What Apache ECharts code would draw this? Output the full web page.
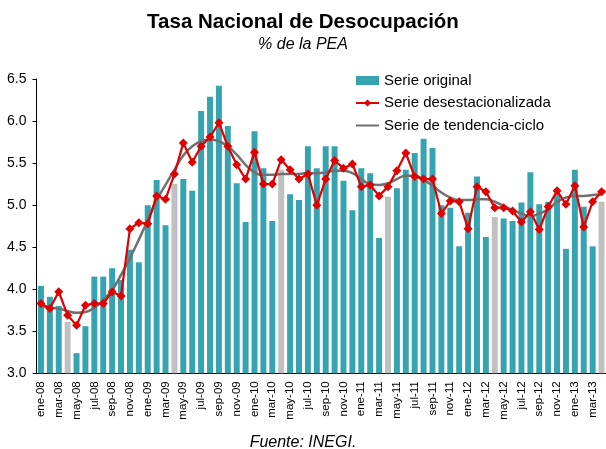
<!DOCTYPE html>
<html>
<head>
<meta charset="utf-8">
<script src="https://cdn.jsdelivr.net/npm/echarts@6/dist/echarts.min.js"></script>
<style>
  html, body { margin: 0; padding: 0; background: #fff; overflow: hidden; }
  #chart { width: 606px; height: 449px; }
</style>
</head>
<body>
<div id="chart"></div>
<script>
// meses ene-08 .. abr-13
const monthNames = ['ene', 'feb', 'mar', 'abr', 'may', 'jun', 'jul', 'ago', 'sep', 'oct', 'nov', 'dic']
const years = ['08', '09', '10', '11', '12', '13']
const categories = []
years.forEach(y => monthNames.forEach(m => categories.push(m + '-' + y)))
categories.length = 64

// serie original
const original = [
  4.04, 3.91, 3.80, 3.61, 3.24, 3.56, 4.15, 4.15, 4.25, 4.11, 4.47, 4.32,
  5.00, 5.30, 4.76, 5.25, 5.31, 5.17, 6.12, 6.29, 6.42, 5.94, 5.26, 4.80,
  5.88, 5.44, 4.81, 5.42, 5.13, 5.06, 5.70, 5.44, 5.70, 5.70, 5.29, 4.94,
  5.44, 5.38, 4.61, 5.10, 5.20, 5.42, 5.62, 5.79, 5.68, 5.00, 4.97, 4.51,
  4.91, 5.34, 4.62, 4.86, 4.84, 4.81, 5.03, 5.39, 5.01, 5.04, 5.12, 4.48,
  5.42, 4.98, 4.51, 5.04
]
// serie desestacionalizada
const desest = [
  3.83, 3.77, 3.97, 3.69, 3.57, 3.81, 3.83, 3.83, 3.97, 3.92, 4.72, 4.79,
  4.78, 5.11, 5.07, 5.37, 5.74, 5.51, 5.70, 5.81, 5.98, 5.70, 5.48, 5.31,
  5.63, 5.25, 5.25, 5.54, 5.42, 5.31, 5.37, 5.00, 5.31, 5.53, 5.44, 5.49,
  5.22, 5.24, 5.11, 5.22, 5.41, 5.62, 5.34, 5.31, 5.31, 4.90, 5.05, 5.04,
  4.72, 5.22, 5.16, 4.97, 4.97, 4.93, 4.80, 4.92, 4.71, 4.98, 5.17, 5.01,
  5.23, 4.74, 5.04, 5.16
]
// serie de tendencia-ciclo
const tendencia = [
  3.80, 3.78, 3.77, 3.74, 3.72, 3.73, 3.78, 3.87, 3.99, 4.17, 4.37, 4.59,
  4.82, 5.06, 5.24, 5.42, 5.59, 5.70, 5.76, 5.78, 5.76, 5.70, 5.60, 5.48,
  5.39, 5.36, 5.36, 5.37, 5.37, 5.37, 5.38, 5.38, 5.39, 5.41, 5.41, 5.38,
  5.31, 5.25, 5.24, 5.26, 5.31, 5.35, 5.35, 5.30, 5.23, 5.15, 5.09, 5.06,
  5.06, 5.07, 5.07, 5.04, 4.99, 4.94, 4.90, 4.87, 4.90, 4.95, 5.04, 5.09,
  5.11, 5.11, 5.12, 5.13
]
// meses en gris (abril, Semana Santa)
const grayMonths = ['abr-08', 'abr-09', 'abr-10', 'abr-11', 'abr-12', 'abr-13']

const teal = '#36A3B0'
const red = '#E00000'
const grayLine = '#707070'
const font = 'Liberation Sans, Arial, sans-serif'

const myChart = echarts.init(document.getElementById('chart'))
const barData = original.map((v, i) => {
  if (grayMonths.includes(categories[i])) {
    return { value: v, itemStyle: { color: '#C0C0C0' } }
  }
  return v
})

const option = {
  animation: false,
  textStyle: { fontFamily: font },
  title: [
    {
      text: 'Tasa Nacional de Desocupación',
      left: 'center',
      top: 7,
      textStyle: { fontSize: 20.5, fontWeight: 'bold', color: '#000', fontFamily: font }
    },
    {
      text: '% de la PEA',
      left: 'center',
      top: 32,
      textStyle: { fontSize: 16, fontStyle: 'italic', fontWeight: 'normal', color: '#000', fontFamily: font }
    },
    {
      text: 'Fuente: INEGI.',
      left: 'center',
      top: 430,
      textStyle: { fontSize: 16, fontStyle: 'italic', fontWeight: 'normal', color: '#000', fontFamily: font }
    }
  ],
  legend: {
    orient: 'vertical',
    left: 355,
    top: 73,
    padding: 0,
    itemWidth: 23,
    itemHeight: 9,
    itemGap: 7.5,
    textStyle: { fontSize: 15, color: '#000', fontFamily: font },
    data: [
      { name: 'Serie original', icon: 'rect' },
      'Serie desestacionalizada',
      { name: 'Serie de tendencia-ciclo', itemStyle: { opacity: 0 } }
    ]
  },
  grid: {
    left: 36.5,
    top: 79,
    width: 573,
    height: 294.3
  },
  xAxis: {
    type: 'category',
    data: categories,
    axisLine: { lineStyle: { color: '#000', width: 1 } },
    axisTick: { interval: 0, length: 3, lineStyle: { color: '#000' } },
    axisLabel: {
      interval: 1,
      rotate: 90,
      margin: 8,
      fontSize: 11.5,
      color: '#000',
      fontFamily: font
    }
  },
  yAxis: {
    type: 'value',
    min: 3,
    max: 6.5,
    interval: 0.5,
    splitLine: { show: false },
    axisLine: { show: true, lineStyle: { color: '#000', width: 1 } },
    axisTick: { show: true, length: 4, lineStyle: { color: '#000' } },
    axisLabel: {
      margin: 10,
      fontSize: 14,
      color: '#000',
      fontFamily: font,
      formatter: v => v.toFixed(1)
    }
  },
  series: [
    {
      name: 'Serie original',
      type: 'bar',
      data: barData,
      barCategoryGap: '33%',
      itemStyle: { color: teal }
    },
    {
      name: 'Serie de tendencia-ciclo',
      type: 'line',
      data: tendencia,
      smooth: true,
      symbol: 'none',
      lineStyle: { color: grayLine, width: 2.5 },
      itemStyle: { color: grayLine }
    },
    {
      name: 'Serie desestacionalizada',
      type: 'line',
      data: desest,
      symbol: 'diamond',
      symbolSize: 9,
      showAllSymbol: true,
      lineStyle: { color: red, width: 2.2 },
      itemStyle: { color: red }
    }
  ]
}
myChart.setOption(option)
</script>
</body>
</html>
